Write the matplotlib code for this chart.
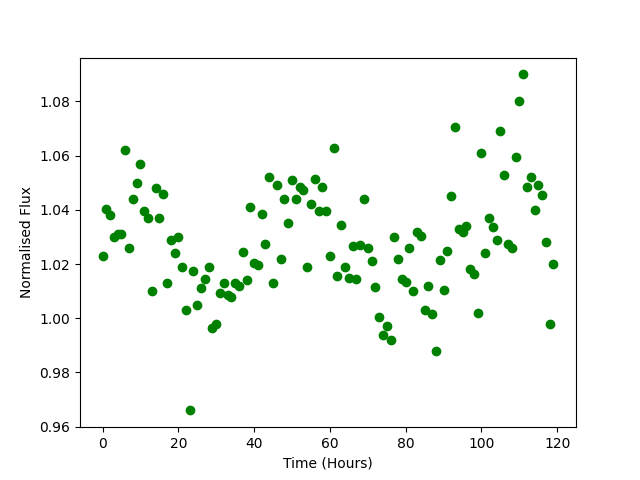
import numpy as np
import matplotlib
matplotlib.use("Agg")
import matplotlib.pyplot as plt

# hourly samples, 0..119
time_hours = np.arange(120)
flux = [
    1.023, 1.0405, 1.038, 1.030, 1.031, 1.031, 1.062, 1.026, 1.044, 1.050,
    1.057, 1.0395, 1.037, 1.010, 1.048, 1.037, 1.046, 1.013, 1.029, 1.024,
    1.030, 1.019, 1.003, 0.966, 1.0175, 1.005, 1.011, 1.0145, 1.019, 0.9965,
    0.998, 1.0095, 1.013, 1.0085, 1.008, 1.013, 1.012, 1.0245, 1.014, 1.041,
    1.0205, 1.0195, 1.0385, 1.0275, 1.052, 1.013, 1.049, 1.022, 1.044, 1.035,
    1.051, 1.044, 1.0485, 1.0475, 1.019, 1.042, 1.0515, 1.0395, 1.0485, 1.0395,
    1.023, 1.063, 1.0155, 1.0345, 1.019, 1.015, 1.0265, 1.0145, 1.027, 1.044,
    1.026, 1.021, 1.0115, 1.0004, 0.994, 0.997, 0.992, 1.030, 1.022, 1.0145,
    1.0135, 1.026, 1.010, 1.032, 1.0305, 1.003, 1.012, 1.0015, 0.988, 1.0215,
    1.0105, 1.025, 1.045, 1.0705, 1.033, 1.032, 1.034, 1.018, 1.0165, 1.002,
    1.061, 1.024, 1.037, 1.0335, 1.029, 1.069, 1.053, 1.0275, 1.026, 1.0595,
    1.080, 1.090, 1.0485, 1.052, 1.040, 1.049, 1.0455, 1.028, 0.998, 1.020,
]

fig, ax = plt.subplots(figsize=(6.4, 4.8), dpi=100)
ax.plot(time_hours, flux, "go")
ax.set_xlabel("Time (Hours)")
ax.set_ylabel("Normalised Flux")

fig.savefig("out.png")
plt.close(fig)
